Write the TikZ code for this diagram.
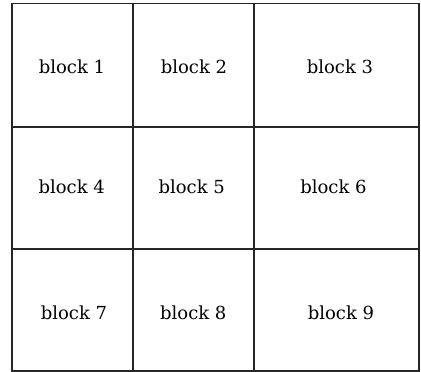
\documentclass[tikz,border=0pt]{standalone}
\usepackage{fontspec}
\setmainfont{DejaVu Serif}
\begin{document}
\begin{tikzpicture}[x=1pt,y=1pt,
  gridline/.style={line width=1.4pt,draw=black!85},
  blocklabel/.style={font=\fontsize{18}{21}\selectfont,inner sep=0pt,anchor=center}]
\useasboundingbox (0,0) rectangle (421,372);
% grid coordinates (y measured up from bottom)
\coordinate (tl) at (12,368.5);
\coordinate (br) at (419,1);
\draw[gridline] (tl) rectangle (br);
\coordinate (v1t) at (133,368.5); \coordinate (v1b) at (133,1);
\coordinate (v2t) at (254,368.5); \coordinate (v2b) at (254,1);
\coordinate (h1l) at (12,245); \coordinate (h1r) at (419,245);
\coordinate (h2l) at (12,123); \coordinate (h2r) at (419,123);
\draw[gridline] (v1t) -- (v1b);
\draw[gridline] (v2t) -- (v2b);
\draw[gridline] (h1l) -- (h1r);
\draw[gridline] (h2l) -- (h2r);
% labels
\node[blocklabel] (b1) at (72,305) {block 1};
\node[blocklabel] (b2) at (194,305) {block 2};
\node[blocklabel] (b3) at (340,305) {block 3};
\node[blocklabel] (b4) at (71.7,185) {block 4};
\node[blocklabel] (b5) at (191.7,185) {block 5};
\node[blocklabel] (b6) at (333.5,185) {block 6};
\node[blocklabel] (b7) at (74,59) {block 7};
\node[blocklabel] (b8) at (193.3,59) {block 8};
\node[blocklabel] (b9) at (341,59) {block 9};
\end{tikzpicture}
\end{document}
